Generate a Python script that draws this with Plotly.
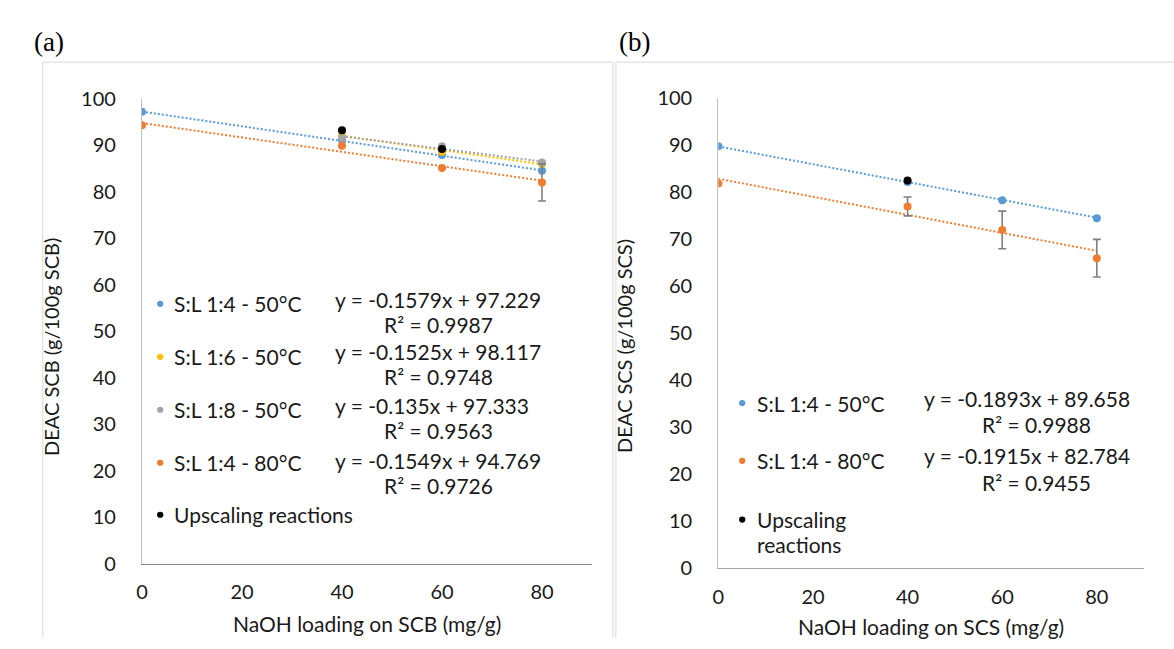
import plotly.graph_objects as go

W, H = 1174, 649

# ---------------- Data: panel (a) SCB ----------------
xa_full = [0, 40, 60, 80]
xa_part = [40, 60, 80]
a_sl14_50 = [97.2, 91.0, 87.9, 84.5]
a_sl16_50 = [92.3, 88.6, 86.0]
a_sl18_50 = [91.6, 89.8, 86.3]
a_sl14_80 = [94.3, 89.9, 85.1, 82.0]
a_sl14_80_err = [0, 0, 0, 4.0]
xa_up = [40, 60]
a_up = [93.2, 89.2]
a_slopes = [-0.1579, -0.1525, -0.135, -0.1549]
a_inters = [97.229, 98.117, 97.333, 94.769]
a_r2 = ["0.9987", "0.9748", "0.9563", "0.9726"]
a_names = ["S:L 1:4 - 50°C", "S:L 1:6 - 50°C", "S:L 1:8 - 50°C", "S:L 1:4 - 80°C"]

# ---------------- Data: panel (b) SCS ----------------
xb = [0, 40, 60, 80]
b_sl14_50 = [89.7, 82.1, 78.2, 74.4]
b_sl14_80 = [81.8, 76.9, 71.9, 65.9]
b_sl14_80_err = [0, 2.0, 4.0, 4.0]
xb_up = [40]
b_up = [82.4]
b_slopes = [-0.1893, -0.1915]
b_inters = [89.658, 82.784]
b_r2 = ["0.9988", "0.9455"]
b_names = ["S:L 1:4 - 50°C", "S:L 1:4 - 80°C"]

x_ticks = [0, 20, 40, 60, 80]
y_ticks = [0, 10, 20, 30, 40, 50, 60, 70, 80, 90, 100]

BLUE, ORANGE, GRAY, YELLOW, BLACK = "#5B9BD5", "#ED7D31", "#A5A5A5", "#FFC000", "#000000"
ERR = "#7F7F7F"
FONT = "Lato"
TXT = "#1a1a1a"

def px(x):
    return x / W

def py(y):
    return 1 - y / H

fig = go.Figure()

def fmt(s, i):
    sign = "+" if i >= 0 else "-"
    return f"y = {s}x {sign} {abs(i)}"

def add_series(x, y, color, xa, ya, slope=None, inter=None, err=None):
    if slope is not None:
        xs = [min(x), max(x)]
        fig.add_trace(go.Scatter(x=xs, y=[slope * v + inter for v in xs], mode="lines",
                                 line=dict(color=color, width=2, dash="2px,2px"),
                                 xaxis=xa, yaxis=ya, showlegend=False, hoverinfo="skip"))
    ed = None
    if err is not None:
        ed = dict(type="data", array=err, visible=True, color=ERR, thickness=1.6, width=4)
    fig.add_trace(go.Scatter(x=x, y=y, mode="markers", error_y=ed,
                             marker=dict(color=color, size=8),
                             xaxis=xa, yaxis=ya, showlegend=False))

# panel (a)
add_series(xa_full, a_sl14_50, BLUE, "x", "y", a_slopes[0], a_inters[0])
add_series(xa_part, a_sl16_50, YELLOW, "x", "y", a_slopes[1], a_inters[1])
add_series(xa_part, a_sl18_50, GRAY, "x", "y", a_slopes[2], a_inters[2])
add_series(xa_full, a_sl14_80, ORANGE, "x", "y", a_slopes[3], a_inters[3], a_sl14_80_err)
add_series(xa_up, a_up, BLACK, "x", "y")

# panel (b)
add_series(xb, b_sl14_50, BLUE, "x2", "y2", b_slopes[0], b_inters[0])
add_series(xb, b_sl14_80, ORANGE, "x2", "y2", b_slopes[1], b_inters[1], b_sl14_80_err)
add_series(xb_up, b_up, BLACK, "x2", "y2")

# plot-area geometry (pixels)
A = dict(l=136.7, r=589, t=89, b=572)
B = dict(l=716, r=1144, t=88, b=576.7)

def xax(dom, lc):
    return dict(domain=[px(dom["l"]), px(dom["r"])], range=[0, 90], tickvals=x_ticks,
                showgrid=False, zeroline=False, showline=True, linecolor=lc, linewidth=1.3,
                ticks="", ticklabelstandoff=10, tickfont=dict(family=FONT, size=20, color=TXT),
                fixedrange=True)

def yax(dom, anchor):
    return dict(domain=[py(dom["b"]), py(dom["t"])], range=[0, 100], tickvals=y_ticks,
                showgrid=False, zeroline=False, showline=True, linecolor="#C0C0C0", linewidth=1.3,
                ticks="", ticklabelstandoff=21, tickfont=dict(family=FONT, size=20, color=TXT),
                anchor=anchor, fixedrange=True)

fig.update_layout(
    width=W, height=H, margin=dict(l=0, r=0, t=0, b=0),
    paper_bgcolor="white", plot_bgcolor="white",
    xaxis=dict(**xax(A, "#868686"), anchor="y"),
    yaxis=yax(A, "x"),
    xaxis2=dict(**xax(B, "#A6A6A6"), anchor="y2"),
    yaxis2=yax(B, "x2"),
    showlegend=False,
)

ann = []
shapes = []

def text(x, y, s, size=18, anchor="left", angle=0, family=FONT, color=TXT):
    ann.append(dict(x=px(x), y=py(y), xref="paper", yref="paper", text=s, showarrow=False,
                    xanchor=anchor, yanchor="middle", textangle=angle, borderpad=0,
                    font=dict(family=family, size=size, color=color)))

def dot(cx, cy, color, r=3.2):
    shapes.append(dict(type="circle", xref="paper", yref="paper",
                       x0=px(cx - r), x1=px(cx + r), y0=py(cy + r), y1=py(cy - r),
                       fillcolor=color, line=dict(width=0)))

# panel labels
text(27, 30, "(a)", size=27, family="Liberation Serif", color="#000")
text(615, 30, "(b)", size=27, family="Liberation Serif", color="#000")

# axis titles
text(363, 634, "NaOH loading on SCB (mg/g)", size=21, anchor="center")
text(930, 637, "NaOH loading on SCS (mg/g)", size=21, anchor="center")
text(45, 347, "DEAC SCB (g/100g SCB)", size=20, anchor="center", angle=-90)
text(621, 346, "DEAC SCS (g/100g SCS)", size=20, anchor="center", angle=-90)

LS = 21
# legend + trendline labels (a)
a_cols = [BLUE, YELLOW, GRAY, ORANGE]
a_lab_y = [302, 357, 412, 467]
a_eq_y = [297, 352, 408, 465]
a_r2_y = [323, 377, 434, 491]
for i in range(4):
    dot(155, a_lab_y[i], a_cols[i])
    text(168, a_lab_y[i], a_names[i], size=LS)
    text(330, a_eq_y[i], fmt(a_slopes[i], a_inters[i]), size=LS)
    text(379, a_r2_y[i], f"R² = {a_r2[i]}", size=LS)
dot(155, 521, BLACK)
text(168, 521, "Upscaling reactions", size=LS)

# legend + trendline labels (b)
b_cols = [BLUE, ORANGE]
b_lab_y = [405, 465]
b_eq_y = [400, 460]
b_r2_y = [427, 488]
for i in range(2):
    dot(740, b_lab_y[i], b_cols[i])
    text(754, b_lab_y[i], b_names[i], size=LS)
    text(922, b_eq_y[i], fmt(b_slopes[i], b_inters[i]), size=LS)
    text(980, b_r2_y[i], f"R² = {b_r2[i]}", size=LS)
dot(740, 526, BLACK)
text(754, 526, "Upscaling", size=LS)
text(754, 552, "reactions", size=LS)

# chart-area borders
BC = "#D9D9D9"
for (x0, y0, x1, y1) in [(37, 51, 37, H), (37, 51, 610, 51), (610, 51, 610, H),
                          (613, 51, 613, H), (613, 51, W, 51)]:
    shapes.append(dict(type="line", xref="paper", yref="paper", x0=px(x0), x1=px(x1),
                       y0=py(y0), y1=py(y1), line=dict(color=BC, width=1)))

fig.update_layout(annotations=ann, shapes=shapes)
fig.write_html("out.html", config={"displayModeBar": False},
               post_script="document.body.style.margin='0';document.body.style.padding='0';")
